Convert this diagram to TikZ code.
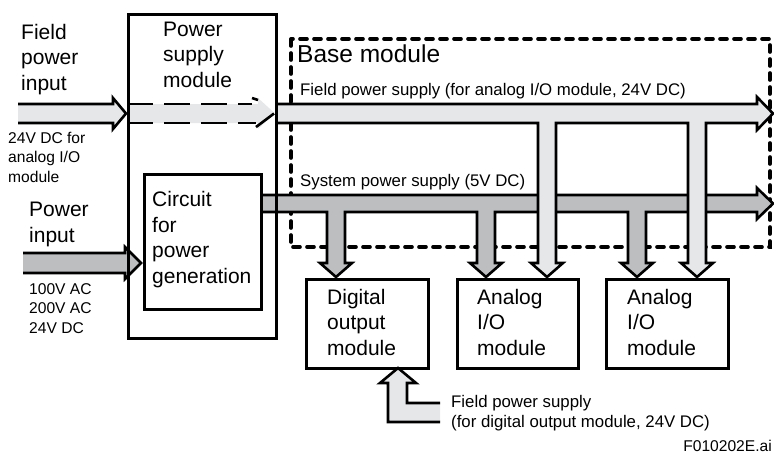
\documentclass[tikz,border=0pt]{standalone}
\usepackage{fontspec}
\setmainfont{Liberation Sans}
\definecolor{lightband}{HTML}{E6E7E8}
\definecolor{darkband}{HTML}{BCBEC0}
\begin{document}
\begin{tikzpicture}[x=1pt,y=-1pt,line join=miter,
  boxst/.style={draw,line width=2.6pt,inner sep=0pt,anchor=north west},
  band/.style={draw,line width=2.6pt,miter limit=20},
  basest/.style={draw,line width=3.6pt,dash pattern=on 7pt off 7pt,line cap=round},
  bigtxt/.style={inner sep=0pt,anchor=base west,align=left,font=\fontsize{21}{25.5}\selectfont},
  midtxt/.style={inner sep=0pt,anchor=base west,align=left,font=\fontsize{16.8}{20}\selectfont},
  smalltxt/.style={inner sep=0pt,anchor=base west,align=left,font=\fontsize{15.6}{19.5}\selectfont}]
\useasboundingbox (0,0) rectangle (774,456);

% base module (dashed)
\draw[basest] (291,39) rectangle (770,247);
\node[inner sep=0pt,anchor=base west,font=\fontsize{24.5}{28}\selectfont] (basetxt) at (297,62) {Base module};

% system power network (dark)
\draw[band,fill=darkband] (260,212) -- (327,212) -- (327,263) -- (320,263) -- (336,277) -- (352,263) -- (345,263) -- (345,212)
  -- (477,212) -- (477,263) -- (470,263) -- (486,277) -- (502,263) -- (495,263) -- (495,212)
  -- (628,212) -- (628,263) -- (621,263) -- (637,277) -- (653,263) -- (646,263) -- (646,212)
  -- (757,212) -- (757,219) -- (773,203.5) -- (757,188) -- (757,195) -- (260,195);

% field power network (light)
\draw[band,fill=lightband] (275,123) -- (538,123) -- (538,263) -- (531,263) -- (547,277) -- (563,263) -- (556,263) -- (556,123)
  -- (688,123) -- (688,263) -- (681,263) -- (697,277) -- (713,263) -- (706,263) -- (706,123)
  -- (757,123) -- (757,130) -- (773,113.5) -- (757,97) -- (757,104) -- (275,104);

% field power input arrow
\draw[band,fill=lightband] (18,104) -- (113,104) -- (113,98) -- (126,113.5) -- (113,129) -- (113,123) -- (18,123);
% dashed arrow inside power supply module
\fill[lightband] (127,104) -- (258,104) -- (258,98) -- (275,113.5) -- (258,129) -- (258,123) -- (127,123) -- cycle;
\draw[line width=2.6pt,dash pattern=on 26pt off 11pt] (127,104) -- (252,104);
\draw[line width=2.6pt] (252,98) -- (258,100);
\draw[line width=2.6pt,dash pattern=on 26pt off 11pt] (127,123) -- (256,123);
\draw[line width=2.6pt] (256,127) -- (274,113.5);

% power input arrow
\draw[band,fill=darkband] (23,253) -- (125,253) -- (125,247) -- (141,263) -- (125,279) -- (125,273) -- (23,273);

% power supply module and circuit
\node[boxst,minimum width=148pt,minimum height=324pt] (psm) at (127,13) {};
\node[boxst,fill=white,minimum width=117pt,minimum height=135pt] (circ) at (143,173) {};

% modules
\node[boxst,minimum width=122pt,minimum height=89pt] (dig) at (305,278) {};
\node[boxst,minimum width=121pt,minimum height=89pt] (ana1) at (456,278) {};
\node[boxst,minimum width=122pt,minimum height=89pt] (ana2) at (605,278) {};

% field supply for digital output module
\draw[band,fill=lightband] (440,422) -- (388,422) -- (388,383) -- (380,383) -- (398,368) -- (416,383) -- (407,383) -- (407,403) -- (440,403);

% texts (anchored at the baseline of their last line)
\node[bigtxt] (fpi) at (21,90) {Field\\power\\input};
\node[smalltxt] (fpiv) at (8,182) {24V DC for\\analog I/O\\module};
\node[bigtxt] (psmtxt) at (163,87) {Power\\supply\\module};
\node[bigtxt] (circtxt) at (152,283) {Circuit\\for\\power\\generation};
\node[bigtxt] (pin) at (29,242) {Power\\input};
\node[smalltxt] (pinv) at (29,333) {100V AC\\200V AC\\24V DC};
\node[midtxt] (fps) at (300,95) {Field power supply (for analog I/O module, 24V DC)};
\node[midtxt] (sps) at (300,186) {System power supply (5V DC)};
\node[bigtxt] (digtxt) at (327,355) {Digital\\output\\module};
\node[bigtxt] (ana1txt) at (477,355) {Analog\\I/O\\module};
\node[bigtxt] (ana2txt) at (627,355) {Analog\\I/O\\module};
\node[midtxt] (dfps) at (451,427) {Field power supply\\(for digital output module, 24V DC)};
\node[inner sep=0pt,anchor=base east,font=\fontsize{15.6}{19}\selectfont] (fig) at (772,451) {F010202E.ai};
\end{tikzpicture}
\end{document}
